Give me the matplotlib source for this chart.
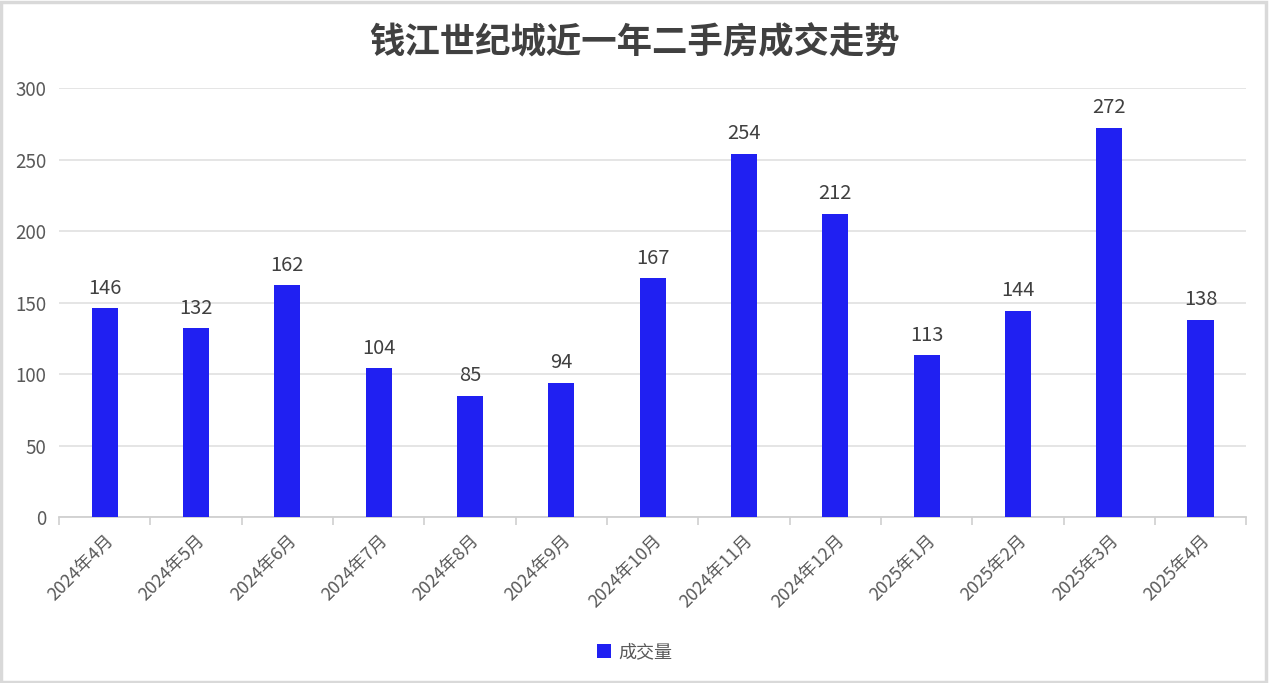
import matplotlib
matplotlib.use("Agg")
import matplotlib.pyplot as plt
from matplotlib.patches import Rectangle
import numpy as np

plt.rcParams['font.family'] = ['Noto Sans CJK SC', 'DejaVu Sans']

months = ["2024年4月", "2024年5月", "2024年6月", "2024年7月", "2024年8月",
          "2024年9月", "2024年10月", "2024年11月", "2024年12月", "2025年1月",
          "2025年2月", "2025年3月", "2025年4月"]
volumes = [146, 132, 162, 104, 85, 94, 167, 254, 212, 113, 144, 272, 138]
title = "钱江世纪城近一年二手房成交走势"
series_name = "成交量"

bar_color = "#2020F2"
grid_color = "#E3E3E3"

fig = plt.figure(figsize=(12.69, 6.83), dpi=100)
fig.patch.set_facecolor("white")
# light frame round the whole figure
fig.patches.append(Rectangle((0.001, 0.002), 0.997, 0.995, transform=fig.transFigure,
                             fill=False, edgecolor="#D9D9D9", linewidth=2.5))

ax = fig.add_axes([0.0465, 0.243, 0.9355, 0.628])
x = np.arange(len(months))
bars = ax.bar(x, volumes, width=0.285, color=bar_color, label=series_name, zorder=3)

ax.set_xlim(-0.5, len(months) - 0.5)
ax.set_ylim(0, 300)
ax.set_yticks(np.arange(0, 301, 50))
ax.yaxis.grid(True, color=grid_color, linewidth=1.3, zorder=0)
ax.set_axisbelow(True)

for side in ["top", "right", "left"]:
    ax.spines[side].set_visible(False)
ax.spines["bottom"].set_color("#D0D0D0")
ax.spines["bottom"].set_linewidth(1.3)

ax.tick_params(axis="y", length=0, pad=9, labelsize=13.5, labelcolor="#595959")
# ticks sit on category boundaries, labels at category centres
ax.set_xticks(np.arange(-0.5, len(months) + 0.5, 1.0))
ax.set_xticklabels([])
ax.tick_params(axis="x", which="major", length=6, width=1.2, color="#D0D0D0")
ax.set_xticks(x, minor=True)
ax.set_xticklabels(months, minor=True, rotation=45, ha="right", va="top",
                   rotation_mode="anchor", fontsize=12.8, color="#595959")
ax.tick_params(axis="x", which="minor", length=0, pad=10)

for xi, v in zip(x, volumes):
    ax.annotate(str(v), (xi, v), xytext=(0, 7), textcoords="offset points",
                ha="center", va="bottom", fontsize=14.5, color="#404040")

fig.text(0.5, 0.938, title, ha="center", va="center", fontsize=25.5,
         fontweight="bold", color="#404040")

fig.legend(handles=[bars], labels=[series_name], loc="center",
           bbox_to_anchor=(0.5, 0.045), frameon=False, fontsize=13,
           handlelength=0.75, handleheight=0.75, handletextpad=0.4,
           labelcolor="#595959")

fig.savefig("out.png", dpi=100, facecolor="white")
